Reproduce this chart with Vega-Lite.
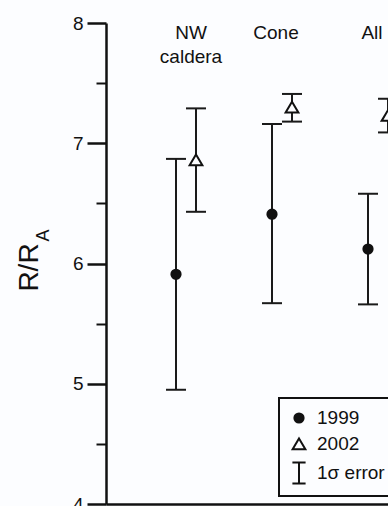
{
  "$schema": "https://vega.github.io/schema/vega-lite/v6.json",
  "width": 282,
  "height": 481,
  "autosize": {"type": "none"},
  "padding": {"left": 106, "top": 23, "right": 0, "bottom": 2},
  "background": "#fcfdff",
  "config": {"view": {"stroke": null}, "font": "Liberation Sans", "axis": {"grid": false}},
  "data": {"values": [
    {"site": "NW caldera", "year": "1999", "value": 5.91, "lo": 4.95, "hi": 6.87},
    {"site": "NW caldera", "year": "2002", "value": 6.86, "lo": 6.43, "hi": 7.29},
    {"site": "Cone", "year": "1999", "value": 6.41, "lo": 5.67, "hi": 7.16},
    {"site": "Cone", "year": "2002", "value": 7.30, "lo": 7.18, "hi": 7.41},
    {"site": "All", "year": "1999", "value": 6.12, "lo": 5.66, "hi": 6.58},
    {"site": "All", "year": "2002", "value": 7.23, "lo": 7.09, "hi": 7.37}
  ]},
  "resolve": {"axis": {"x": "independent", "y": "independent"}},
  "layer": [
    {
      "mark": {"type": "rule", "strokeWidth": 2, "color": "#1a1a1a"},
      "encoding": {
        "x": {"field": "site", "type": "nominal",
          "scale": {"domain": ["NW caldera", "Cone", "All"], "range": [0, 352], "paddingInner": 0, "paddingOuter": 0.3333},
          "axis": {"orient": "top", "domain": false, "ticks": false, "labelPadding": 0, "labelBaseline": "top", "labelAngle": 0,
            "labelFontSize": 19, "labelColor": "#111", "labelFont": "Liberation Sans", "labelLineHeight": 24,
            "labelExpr": "split(datum.label, ' ')",
            "labelOffset": {"condition": {"test": "datum.value == 'NW caldera'", "value": 5}, "value": -6},
            "title": null, "labelOverlap": false, "labelLimit": 300}},
        "xOffset": {"field": "year", "type": "nominal", "scale": {"type": "point", "domain": ["1999", "2002"], "range": [38, 58], "padding": 0}},
        "y": {"field": "lo", "type": "quantitative", "scale": {"domain": [4, 8], "nice": false, "zero": false},
          "axis": {"orient": "left", "values": [4, 5, 6, 7, 8], "tickSize": 19, "tickWidth": 2.5, "tickColor": "#111",
            "domainColor": "#111", "domainWidth": 2.5, "labelFontSize": 19, "labelPadding": 4, "labelColor": "#111",
            "labelFont": "Liberation Sans", "labelFlush": false, "labelOverlap": false,
            "title": "R/R", "titleFontSize": 28, "titleFontWeight": "normal", "titleColor": "#111", "titleFont": "Liberation Sans",
            "titleAngle": 270, "titleX": -69, "titleY": 244, "titleAlign": "center", "titleBaseline": "alphabetic"}},
        "y2": {"field": "hi"}
      }
    },
    {
      "mark": {"type": "tick", "orient": "horizontal", "size": 20, "thickness": 2, "color": "#1a1a1a", "opacity": 1},
      "encoding": {
        "x": {"field": "site", "type": "nominal",
          "scale": {"domain": ["NW caldera", "Cone", "All"], "range": [0, 352], "paddingInner": 0, "paddingOuter": 0.3333},
          "axis": {"orient": "bottom", "labels": false, "ticks": false, "domain": true, "domainColor": "#111", "domainWidth": 2.5, "title": null}},
        "xOffset": {"field": "year", "type": "nominal", "scale": {"type": "point", "domain": ["1999", "2002"], "range": [38, 58], "padding": 0}},
        "y": {"field": "lo", "type": "quantitative", "scale": {"domain": [4, 8], "nice": false, "zero": false},
          "axis": {"orient": "left", "values": [4.5, 5.5, 6.5, 7.5], "tickSize": 10, "tickWidth": 2, "tickColor": "#111",
            "labels": false, "domain": false,
            "title": "A", "titleFontSize": 18, "titleFontWeight": "normal", "titleColor": "#111", "titleFont": "Liberation Sans",
            "titleAngle": 270, "titleX": -58, "titleY": 212, "titleAlign": "center", "titleBaseline": "alphabetic"}}
      }
    },
    {
      "mark": {"type": "tick", "orient": "horizontal", "size": 20, "thickness": 2, "color": "#1a1a1a", "opacity": 1},
      "encoding": {
        "x": {"field": "site", "type": "nominal",
          "scale": {"domain": ["NW caldera", "Cone", "All"], "range": [0, 352], "paddingInner": 0, "paddingOuter": 0.3333},
          "axis": null},
        "xOffset": {"field": "year", "type": "nominal", "scale": {"type": "point", "domain": ["1999", "2002"], "range": [38, 58], "padding": 0}},
        "y": {"field": "hi", "type": "quantitative", "scale": {"domain": [4, 8], "nice": false, "zero": false}, "axis": null}
      }
    },
    {
      "mark": {"type": "point", "size": 484, "strokeWidth": 2, "stroke": "#111", "opacity": 1},
      "encoding": {
        "x": {"field": "site", "type": "nominal",
          "scale": {"domain": ["NW caldera", "Cone", "All"], "range": [0, 352], "paddingInner": 0, "paddingOuter": 0.3333},
          "axis": null},
        "xOffset": {"field": "year", "type": "nominal", "scale": {"type": "point", "domain": ["1999", "2002"], "range": [38, 58], "padding": 0}},
        "y": {"field": "value", "type": "quantitative", "scale": {"domain": [4, 8], "nice": false, "zero": false}, "axis": null},
        "shape": {"field": "year", "type": "nominal",
          "scale": {"domain": ["1999", "2002", "1σ error"],
            "range": ["M-0.42,0A0.42,0.42,0,1,0,0.42,0A0.42,0.42,0,1,0,-0.42,0Z", "M0,-0.5L0.58,0.48L-0.58,0.48Z", "M-0.6,-0.95H0.6M0,-0.95V0.95M-0.6,0.95H0.6"]},
          "legend": {"orient": "none", "legendX": 173, "legendY": 375, "title": null, "padding": 8, "strokeColor": "#111",
            "fillColor": "#fcfdff", "labelFontSize": 19, "labelFont": "Liberation Sans", "labelColor": "#111", "labelOffset": 6,
            "rowPadding": 4, "symbolSize": 484, "symbolStrokeColor": "#111", "symbolStrokeWidth": 2,
            "encoding": {"legend": {"strokeWidth": {"value": 2}}, "symbols": {"stroke": {"value": "#111"}, "strokeWidth": {"value": 2}}}}},
        "fill": {"field": "year", "type": "nominal",
          "scale": {"domain": ["1999", "2002", "1σ error"], "range": ["#111111", "#fcfdff", "transparent"]},
          "legend": {"orient": "none", "legendX": 173, "legendY": 375, "title": null, "padding": 8, "strokeColor": "#111",
            "fillColor": "#fcfdff", "labelFontSize": 19, "labelFont": "Liberation Sans", "labelColor": "#111", "labelOffset": 6,
            "rowPadding": 4, "symbolSize": 484, "symbolStrokeColor": "#111", "symbolStrokeWidth": 2,
            "encoding": {"legend": {"strokeWidth": {"value": 2}}, "symbols": {"stroke": {"value": "#111"}, "strokeWidth": {"value": 2}}}}}
      }
    }
  ]
}
